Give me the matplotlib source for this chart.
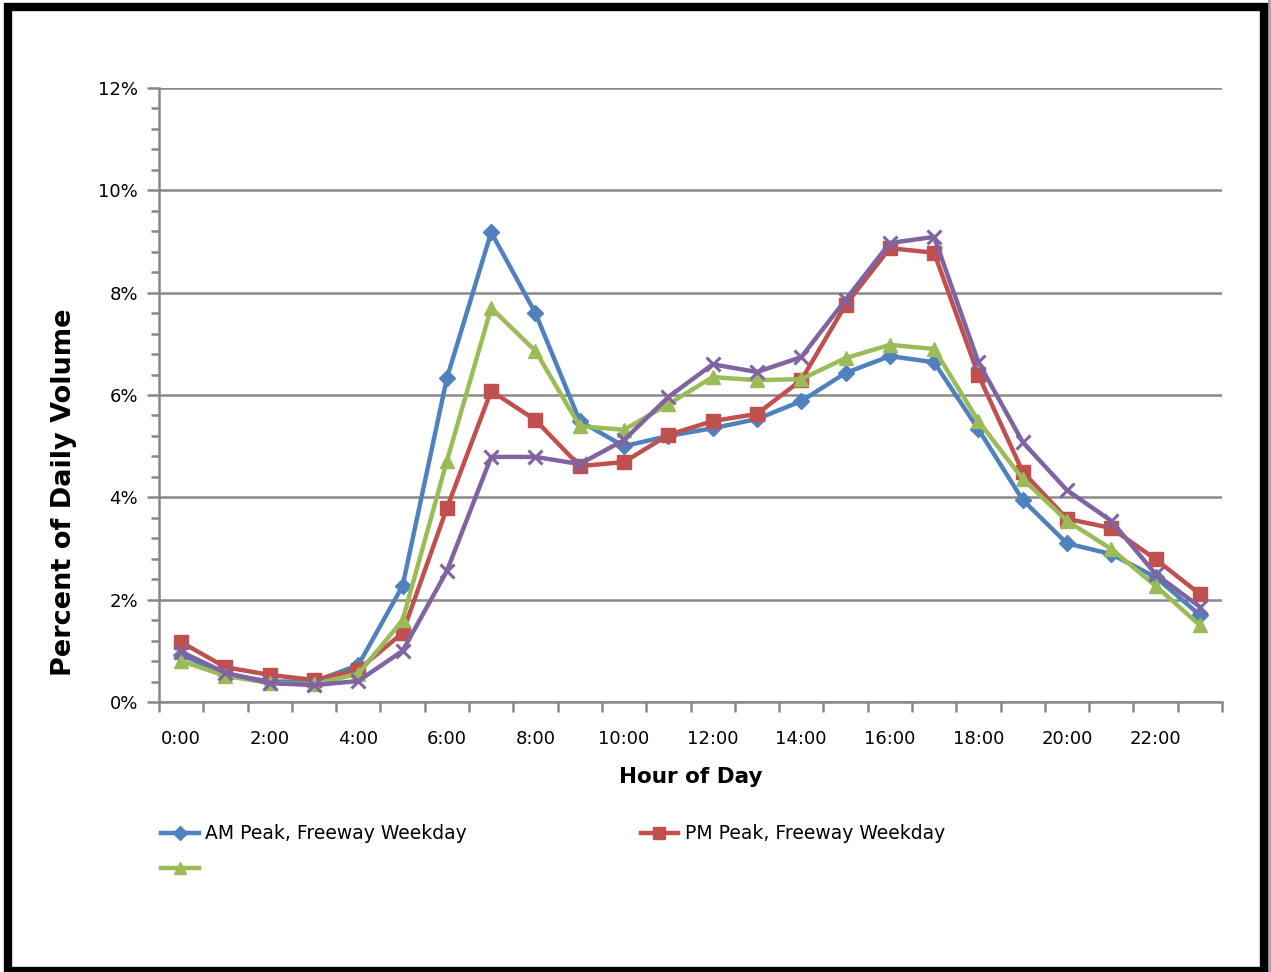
import numpy as np
import matplotlib
matplotlib.use("Agg")
import matplotlib.pyplot as plt
from matplotlib.patches import Rectangle
from matplotlib.ticker import MultipleLocator, FuncFormatter

# hourly share of daily volume (%)
hours = list(range(24))
hour_labels = ["%d:00" % h for h in range(0, 24, 2)]

am_peak = [0.92, 0.55, 0.40, 0.40, 0.72, 2.27, 6.33, 9.18, 7.60, 5.49, 5.00, 5.20,
           5.35, 5.53, 5.88, 6.43, 6.76, 6.64, 5.33, 3.95, 3.10, 2.89, 2.44, 1.70]
pm_peak = [1.17, 0.68, 0.53, 0.43, 0.63, 1.35, 3.79, 6.08, 5.51, 4.61, 4.69, 5.22,
           5.49, 5.63, 6.29, 7.76, 8.87, 8.78, 6.39, 4.50, 3.58, 3.40, 2.79, 2.11]
green_series = [0.80, 0.51, 0.37, 0.35, 0.55, 1.60, 4.71, 7.70, 6.86, 5.39, 5.32, 5.82,
                6.35, 6.29, 6.31, 6.72, 6.98, 6.90, 5.49, 4.36, 3.54, 2.99, 2.27, 1.50]
purple_series = [0.98, 0.57, 0.37, 0.33, 0.41, 1.00, 2.56, 4.79, 4.79, 4.65, 5.12, 5.96,
                 6.60, 6.45, 6.74, 7.86, 8.97, 9.09, 6.64, 5.08, 4.14, 3.54, 2.50, 1.86]

fig = plt.figure(figsize=(12.71, 9.72), dpi=100)
ax = fig.add_axes([159 / 1271, 1 - 702 / 972, 1063 / 1271, 614 / 972])

grid_col = "#898989"
lw = 3.2

l_am, = ax.plot(hours, am_peak, color="#4F81BD", lw=lw, marker="D", ms=8.5,
                label="AM Peak, Freeway Weekday", zorder=3)
l_pm, = ax.plot(hours, pm_peak, color="#C0504D", lw=lw, marker="s", ms=9.5,
                label="PM Peak, Freeway Weekday", zorder=3)
l_gr, = ax.plot(hours, green_series, color="#9BBB59", lw=lw, marker="^", ms=10.5,
                label=" ", zorder=3)
l_pu, = ax.plot(hours, purple_series, color="#8064A2", lw=lw, marker="x", ms=10.5,
                mew=2.2, zorder=3)

ax.set_xlim(-0.5, 23.5)
ax.set_ylim(0, 12)

# y axis: major every 2%, minor every 0.4%
ax.yaxis.set_major_locator(MultipleLocator(2))
ax.yaxis.set_minor_locator(MultipleLocator(0.4))
ax.yaxis.set_major_formatter(FuncFormatter(lambda v, p: "%d%%" % v))
ax.tick_params(axis="y", which="major", length=9, width=1.8, color=grid_col,
               labelsize=13, pad=6)
ax.tick_params(axis="y", which="minor", length=6, width=1.8, color=grid_col)
ax.yaxis.grid(True, which="major", color=grid_col, lw=1.8)
ax.set_axisbelow(True)

# x axis: ticks at category edges, labels every 2 hours
ax.set_xticks(np.arange(-0.5, 24, 1))
ax.set_xticklabels([])
ax.set_xticks(range(0, 24, 2), minor=True)
ax.set_xticklabels(hour_labels, minor=True)
ax.tick_params(axis="x", which="major", length=7, width=1.8, color=grid_col)
ax.tick_params(axis="x", which="minor", length=0, labelsize=13, pad=20)

for s in ["top", "right"]:
    ax.spines[s].set_visible(False)
for s in ["left", "bottom"]:
    ax.spines[s].set_color(grid_col)
    ax.spines[s].set_linewidth(1.8)

ax.set_xlabel("Hour of Day", fontsize=15.5, fontweight="bold", labelpad=14)
ax.set_ylabel("Percent of Daily Volume", fontsize=19.5, fontweight="bold")
ax.yaxis.set_label_coords((77 - 159) / 1063, (702 - 492) / 614)

fig.legend(handles=[l_am, l_gr, l_pm], labels=["AM Peak, Freeway Weekday", "",
                                              "PM Peak, Freeway Weekday"],
           ncol=2, loc="upper left", bbox_to_anchor=(152 / 1271, 1 - 815 / 972),
           frameon=False, fontsize=13.5, handlelength=2.0, handletextpad=0.35,
           columnspacing=9.25, borderpad=0, labelspacing=0.85, markerscale=0.85)

# black frame around the picture, with a grey shadow on the right
fig.patches.append(Rectangle((1268 / 1271, 0), 3 / 1271, 1,
                             transform=fig.transFigure, color="#a6a6a6", lw=0))
fig.patches.append(Rectangle((7.5 / 1271, 1 / 972), 1256 / 1271, 1 - 8.5 / 972,
                             transform=fig.transFigure, fill=False,
                             edgecolor="black", lw=6))

fig.savefig("out.png", dpi=100)
